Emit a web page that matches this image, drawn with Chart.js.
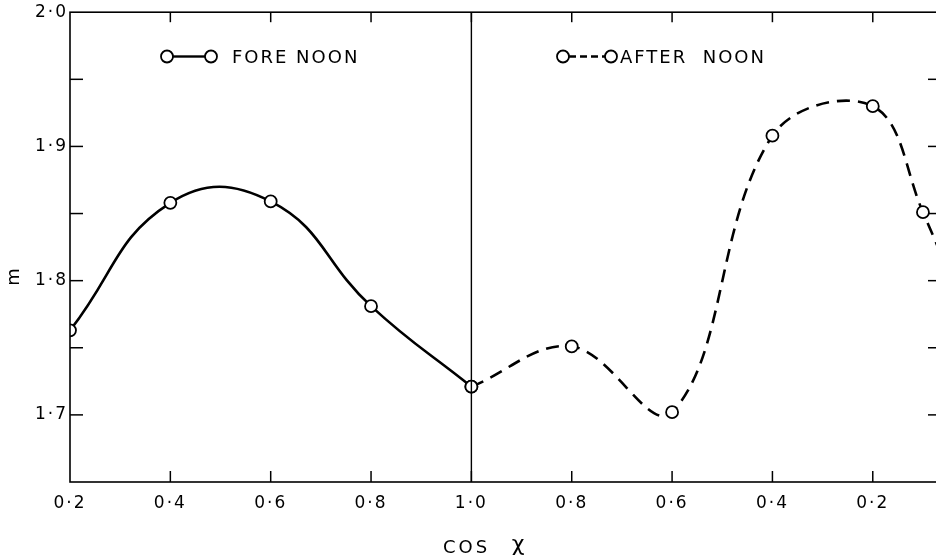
<!DOCTYPE html>
<html><head><meta charset="utf-8">
<script src="https://cdn.jsdelivr.net/npm/chart.js@4/dist/chart.umd.min.js"></script>
<style>
html,body{margin:0;padding:0;background:#fff;overflow:hidden;}
#wrap{position:relative;width:946px;height:560px;}
</style></head><body>
<div id="wrap"><canvas id="c" width="946" height="560"></canvas></div>
<script>
// ---- data (m versus cos chi) ----
const forenoonCos = [0.2, 0.4, 0.6, 0.8, 1.0];
const forenoonM   = [1.763, 1.858, 1.859, 1.781, 1.721];
const afternoonCos = [1.0, 0.8, 0.6, 0.4, 0.2, 0.1, 0.0];
const afternoonM   = [1.721, 1.751, 1.702, 1.908, 1.930, 1.851, 1.76];
const xTickCos = [0.2, 0.4, 0.6, 0.8, 1.0, 0.8, 0.6, 0.4, 0.2];   // first five forenoon, rest afternoon
const yTickValues = [1.7, 1.8, 1.9, 2.0];
const yMinorTicks = [1.75, 1.85, 1.95];

// axis position: forenoon runs 0.2 -> 1.0, afternoon mirrored back 1.0 -> 0
const toT = (c, after) => after ? 2 - c : c;
const fmt = v => v.toFixed(1).replace('.', '\u00B7');
const FONT = '"DejaVu Sans", sans-serif';

function line(ctx, x1, y1, x2, y2){ ctx.beginPath(); ctx.moveTo(x1,y1); ctx.lineTo(x2,y2); ctx.stroke(); }

const spacing = {
  id: 'spacing',
  beforeDraw(chart){ chart.ctx.letterSpacing = '2px'; },
  afterDraw(chart){ chart.ctx.letterSpacing = '0px'; }
};

const frame = {
  id: 'frame',
  afterDatasetsDraw(chart){
    const {ctx, chartArea: a, scales: {x, y}} = chart;
    ctx.save();
    ctx.letterSpacing = '0px';
    ctx.strokeStyle = '#000';
    ctx.lineWidth = 1.6;
    ctx.strokeRect(a.left, a.top, a.right - a.left, a.bottom - a.top);
    // divider at cos chi = 1.0
    const xn = x.getPixelForValue(1.0);
    ctx.lineWidth = 1.4;
    line(ctx, xn, a.top, xn, a.bottom);
    // inward x ticks
    ctx.lineWidth = 1.5;
    xTickCos.forEach((c, i) => {
      if (i === 0) return;
      const px = x.getPixelForValue(toT(c, i > 4));
      line(ctx, px, a.bottom, px, a.bottom - 11);
      line(ctx, px, a.top, px, a.top + 10);
    });
    // inward y ticks, left and right
    [...yTickValues, ...yMinorTicks].forEach(v => {
      if (v >= 2.0) return;
      const py = y.getPixelForValue(v);
      line(ctx, a.left, py, a.left + 13, py);
      line(ctx, a.right, py, a.right - 10, py);
    });

    // legend (inside plot)
    ctx.fillStyle = '#000';
    ctx.lineWidth = 2.4;
    line(ctx, 173, 56.5, 205, 56.5);
    ctx.setLineDash([7, 4]);
    line(ctx, 569, 56.5, 605, 56.5);
    ctx.setLineDash([]);
    ctx.lineWidth = 1.8;
    [167, 211, 563, 611].forEach(cx => {
      ctx.beginPath(); ctx.arc(cx, 56.5, 6, 0, Math.PI * 2);
      ctx.fillStyle = '#fff'; ctx.fill(); ctx.stroke();
    });
    ctx.fillStyle = '#000';
    ctx.font = '18px ' + FONT;
    ctx.letterSpacing = '2px';
    ctx.textAlign = 'left';
    ctx.textBaseline = 'alphabetic';
    ctx.fillText('FORE NOON', 232, 63);
    ctx.fillText('AFTER  NOON', 620, 63);

    // x title
    ctx.letterSpacing = '3px';
    ctx.fillText('COS', 443, 553);
    ctx.letterSpacing = '0px';
    ctx.font = '22px ' + FONT;
    ctx.textAlign = 'center';
    ctx.fillText('\u03C7', 518, 551);

    // y title
    ctx.font = '18px ' + FONT;
    ctx.translate(14, 277);
    ctx.rotate(-Math.PI / 2);
    ctx.textAlign = 'center';
    ctx.textBaseline = 'middle';
    ctx.fillText('m', 0, 0);
    ctx.restore();
  }
};

const common = {
  borderColor: '#000', borderWidth: 2.6, tension: 0.4, fill: false,
  pointRadius: 6, pointBorderWidth: 1.8, pointBackgroundColor: '#fff', pointBorderColor: '#000'
};

new Chart(document.getElementById('c'), {
  type: 'line',
  data: {
    datasets: [
      Object.assign({ label: 'FORE NOON',
        data: forenoonCos.map((c, i) => ({ x: toT(c, false), y: forenoonM[i] })) }, common, { tension: 0.45 }),
      Object.assign({ label: 'AFTER NOON', borderDash: [13, 8],
        data: afternoonCos.map((c, i) => ({ x: toT(c, true), y: afternoonM[i] })) }, common, { tension: 0.38 })
    ]
  },
  options: {
    responsive: false,
    animation: false,
    events: [],
    layout: { padding: { top: 12, right: 8, left: 0, bottom: 0 } },
    plugins: { legend: { display: false }, tooltip: { enabled: false } },
    scales: {
      x: {
        type: 'linear', min: 0.2, max: 1.93,
        afterFit(s){ s.height = 78; },
        afterBuildTicks(s){ s.ticks = xTickCos.map((c, i) => ({ value: toT(c, i > 4) })); },
        ticks: { callback: (v, i) => fmt(xTickCos[i]), padding: 11, color: '#000',
                 font: { family: FONT, size: 17 }, maxRotation: 0, autoSkip: false },
        grid: { display: false, drawTicks: false },
        border: { display: false }
      },
      y: {
        type: 'linear', min: 1.65, max: 2.0,
        afterFit(s){ s.width = 70; },
        afterBuildTicks(s){ s.ticks = yTickValues.map(v => ({ value: v })); },
        ticks: { callback: (v, i) => fmt(yTickValues[i]), padding: 2, color: '#000',
                 font: { family: FONT, size: 17 } },
        grid: { display: false, drawTicks: false },
        border: { display: false }
      }
    }
  },
  plugins: [spacing, frame]
});
</script>
</body></html>
